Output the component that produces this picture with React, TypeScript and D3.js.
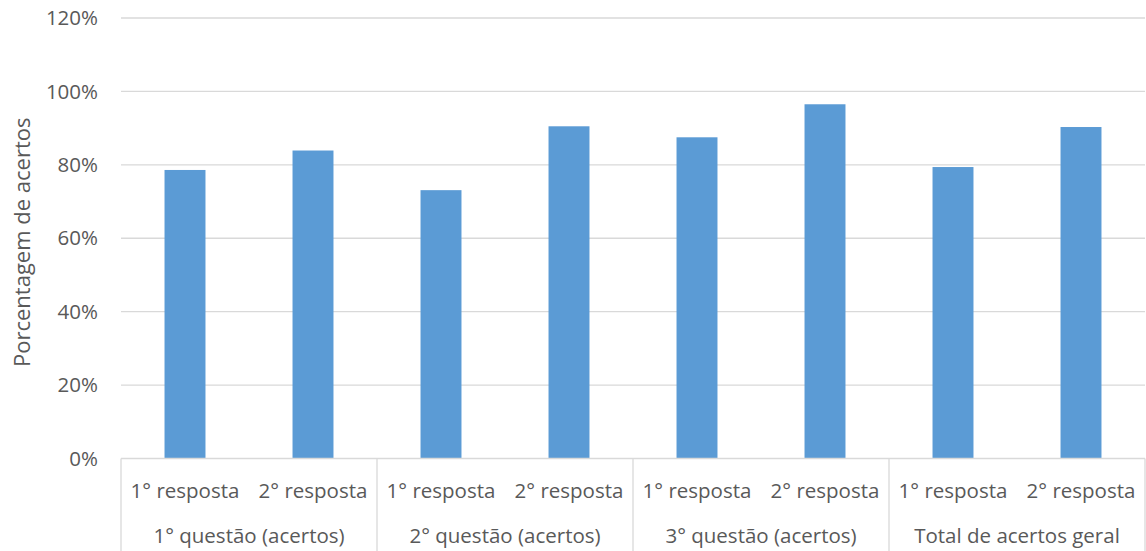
import React from "react";
import * as d3 from "d3";

// Percent of correct answers, grouped by question and by attempt
const groups = [
  "1° questão (acertos)",
  "2° questão (acertos)",
  "3° questão (acertos)",
  "Total de acertos geral",
];
const attempts = ["1° resposta", "2° resposta"];
const values = [
  [78.6, 83.9],
  [73.1, 90.5],
  [87.5, 96.5],
  [79.4, 90.3],
];
const yTicks = [0, 20, 40, 60, 80, 100, 120];

const W = 1146;
const H = 551;
const margin = { left: 121, right: 1, top: 18, bottom: 92.5 };
const FONT = "'Open Sans', 'Noto Sans', sans-serif";
const TEXT = "#595959";
const GRID = "#D9D9D9";
const BAR = "#5B9BD5";

export default function App() {
  const x0 = d3
    .scaleBand<string>()
    .domain(groups)
    .range([margin.left, W - margin.right])
    .paddingInner(0)
    .paddingOuter(0);
  const x1 = d3
    .scaleBand<string>()
    .domain(attempts)
    .range([0, x0.bandwidth()])
    .paddingInner(0.68)
    .paddingOuter(0.34);
  const xCenter = d3
    .scaleBand<string>()
    .domain(attempts)
    .range([0, x0.bandwidth()]);
  const y = d3
    .scaleLinear()
    .domain([0, 120])
    .range([H - margin.bottom, margin.top]);

  const y0 = y(0);
  const fmt = (v: number) => `${v}%`;

  return (
    <svg
      width={W}
      height={H}
      style={{ position: "absolute", left: 0, top: 0, background: "#fff" }}
      fontFamily={FONT}
    >
      {/* horizontal gridlines and tick labels */}
      {yTicks.map((t) => (
        <g key={t}>
          {t > 0 && (
            <line
              x1={margin.left}
              x2={W - margin.right}
              y1={y(t)}
              y2={y(t)}
              stroke={GRID}
              strokeWidth={1.3}
            />
          )}
          <text
            x={98}
            y={y(t)}
            dy="0.35em"
            textAnchor="end"
            fontSize={20.5}
            fill={TEXT}
          >
            {fmt(t)}
          </text>
        </g>
      ))}

      {/* bars */}
      {groups.map((g, gi) =>
        attempts.map((a, ai) => (
          <rect
            key={`${g}-${a}`}
            x={(x0(g) ?? 0) + (x1(a) ?? 0)}
            y={y(values[gi][ai])}
            width={x1.bandwidth()}
            height={y0 - y(values[gi][ai])}
            fill={BAR}
          />
        ))
      )}

      {/* category axis: baseline, group separators and two label rows */}
      <line
        x1={margin.left}
        x2={W - margin.right}
        y1={y0}
        y2={y0}
        stroke={GRID}
        strokeWidth={1.3}
      />
      {[...groups.map((g) => x0(g) ?? 0), W - margin.right].map((xx, i) => (
        <line
          key={i}
          x1={xx}
          x2={xx}
          y1={y0}
          y2={H}
          stroke={GRID}
          strokeWidth={1.3}
        />
      ))}
      {groups.map((g) => (
        <g key={g}>
          {attempts.map((a) => (
            <text
              key={a}
              x={(x0(g) ?? 0) + (xCenter(a) ?? 0) + xCenter.bandwidth() / 2}
              y={491}
              dy="0.35em"
              textAnchor="middle"
              fontSize={20.5}
              fill={TEXT}
            >
              {a}
            </text>
          ))}
          <text
            x={(x0(g) ?? 0) + x0.bandwidth() / 2}
            y={536}
            dy="0.35em"
            textAnchor="middle"
            fontSize={20.5}
            fill={TEXT}
          >
            {g}
          </text>
        </g>
      ))}

      {/* y axis title */}
      <text
        transform={`translate(22, ${(margin.top + y0) / 2 + 4}) rotate(-90)`}
        dy="0.35em"
        textAnchor="middle"
        fontSize={22}
        fill={TEXT}
      >
        Porcentagem de acertos
      </text>
    </svg>
  );
}
